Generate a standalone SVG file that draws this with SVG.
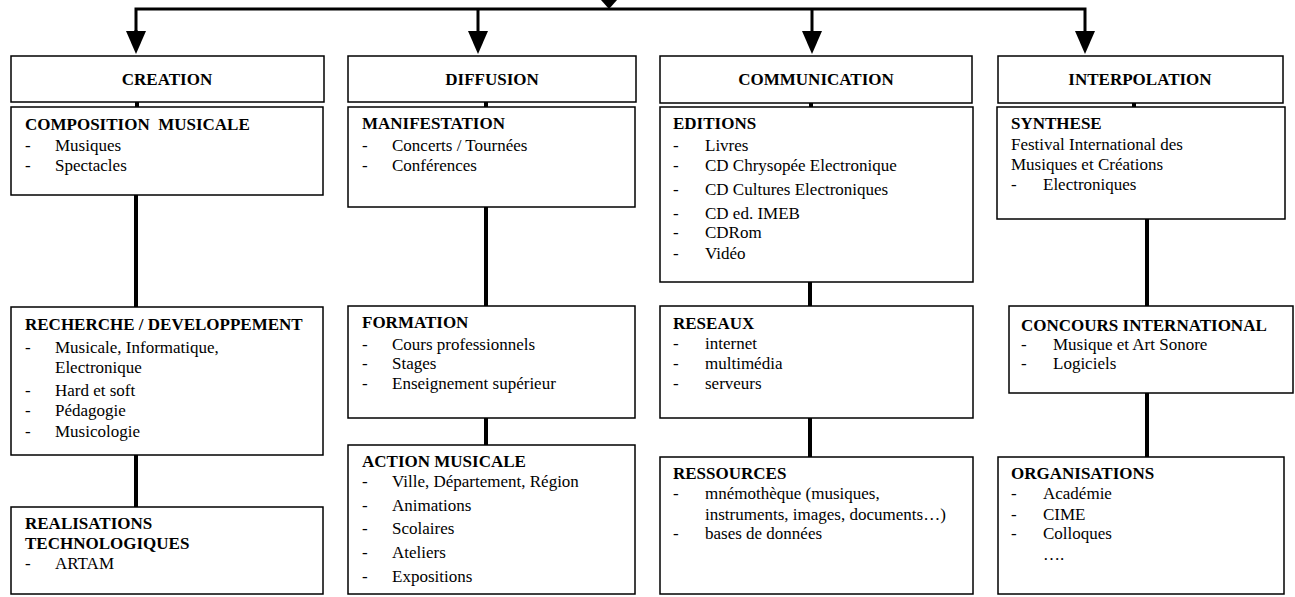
<svg xmlns="http://www.w3.org/2000/svg" width="1295" height="597" viewBox="0 0 1295 597">
<style>
text{font-family:"Liberation Serif","Times New Roman",serif;font-size:17px;fill:#000}
.t{font-weight:bold}
.c{text-anchor:middle}
.box{fill:#fff;stroke:#000;stroke-width:1.5}
.con{stroke:#000;stroke-width:4;fill:none}
.top{stroke:#000;stroke-width:3;fill:none}
</style>
<defs>
<marker id="ah" markerWidth="20" markerHeight="23" refX="10" refY="23" orient="auto" markerUnits="userSpaceOnUse" viewBox="0 0 20 23">
<path d="M0,0 L20,0 L10,23 Z" fill="#000"/>
</marker>
</defs>
<g id="connectors">
<polygon points="601,0 617,0 609,9" fill="#000"/>
<polyline class="top" points="136,33 136,9 1085,9 1085,33"/>
<line class="top" x1="136" y1="30" x2="136" y2="31"/>
<path d="M126,31 L146,31 L136,54 Z" fill="#000"/>
<line class="top" x1="478" y1="9" x2="478" y2="32"/>
<path d="M468,31 L488,31 L478,54 Z" fill="#000"/>
<line class="top" x1="812" y1="9" x2="812" y2="32"/>
<path d="M802,31 L822,31 L812,54 Z" fill="#000"/>
<path d="M1075,31 L1095,31 L1085,54 Z" fill="#000"/>
<line class="con" x1="137" y1="102" x2="137" y2="107"/>
<line class="con" x1="486" y1="102" x2="486" y2="107"/>
<line class="con" x1="811" y1="103" x2="811" y2="107"/>
<line class="con" x1="1134" y1="103" x2="1134" y2="107"/>
<line class="con" x1="136" y1="195" x2="136" y2="307"/>
<line class="con" x1="486" y1="207" x2="486" y2="306"/>
<line class="con" x1="810" y1="282" x2="810" y2="306"/>
<line class="con" x1="1147" y1="219" x2="1147" y2="306"/>
<line class="con" x1="136" y1="455" x2="136" y2="507"/>
<line class="con" x1="486" y1="418" x2="486" y2="445"/>
<line class="con" x1="810" y1="418" x2="810" y2="457"/>
<line class="con" x1="1147" y1="393" x2="1147" y2="457"/>
</g>
<g id="creation">
<rect class="box" x="11" y="56" width="313" height="46"/>
<text class="t c" x="167" y="85">CREATION</text>
</g>
<g id="diffusion">
<rect class="box" x="348" y="56" width="288" height="46"/>
<text class="t c" x="492" y="85">DIFFUSION</text>
</g>
<g id="communication">
<rect class="box" x="660" y="56" width="312" height="47"/>
<text class="t c" x="816" y="85">COMMUNICATION</text>
</g>
<g id="interpolation">
<rect class="box" x="998" y="56" width="285" height="47"/>
<text class="t c" x="1140" y="85">INTERPOLATION</text>
</g>
<g id="composition">
<rect class="box" x="11" y="107" width="312" height="88"/>
<text class="t" x="25" y="130" xml:space="preserve">COMPOSITION  MUSICALE</text>
<text x="25" y="151">-</text><text x="55" y="151">Musiques</text>
<text x="25" y="171">-</text><text x="55" y="171">Spectacles</text>
</g>
<g id="recherche">
<rect class="box" x="11" y="307" width="312" height="148"/>
<text class="t" x="25" y="330">RECHERCHE / DEVELOPPEMENT</text>
<text x="25" y="353">-</text><text x="55" y="353">Musicale, Informatique,</text>
<text x="55" y="373">Electronique</text>
<text x="25" y="396">-</text><text x="55" y="396">Hard et soft</text>
<text x="25" y="416">-</text><text x="55" y="416">Pédagogie</text>
<text x="25" y="437">-</text><text x="55" y="437">Musicologie</text>
</g>
<g id="realisations">
<rect class="box" x="11" y="507" width="312" height="87"/>
<text class="t" x="25" y="529">REALISATIONS</text>
<text class="t" x="25" y="549">TECHNOLOGIQUES</text>
<text x="25" y="569">-</text><text x="55" y="569">ARTAM</text>
</g>
<g id="manifestation">
<rect class="box" x="348" y="107" width="287" height="100"/>
<text class="t" x="362" y="129">MANIFESTATION</text>
<text x="362" y="151">-</text><text x="392" y="151">Concerts / Tournées</text>
<text x="362" y="171">-</text><text x="392" y="171">Conférences</text>
</g>
<g id="formation">
<rect class="box" x="348" y="306" width="287" height="112"/>
<text class="t" x="362" y="328">FORMATION</text>
<text x="362" y="350">-</text><text x="392" y="350">Cours professionnels</text>
<text x="362" y="369">-</text><text x="392" y="369">Stages</text>
<text x="362" y="389">-</text><text x="392" y="389">Enseignement supérieur</text>
</g>
<g id="action">
<rect class="box" x="348" y="445" width="287" height="149"/>
<text class="t" x="362" y="467">ACTION MUSICALE</text>
<text x="362" y="487">-</text><text x="392" y="487">Ville, Département, Région</text>
<text x="362" y="511">-</text><text x="392" y="511">Animations</text>
<text x="362" y="534">-</text><text x="392" y="534">Scolaires</text>
<text x="362" y="558">-</text><text x="392" y="558">Ateliers</text>
<text x="362" y="582">-</text><text x="392" y="582">Expositions</text>
</g>
<g id="editions">
<rect class="box" x="660" y="107" width="313" height="175"/>
<text class="t" x="673" y="129">EDITIONS</text>
<text x="673" y="151">-</text><text x="705" y="151">Livres</text>
<text x="673" y="171">-</text><text x="705" y="171">CD Chrysopée Electronique</text>
<text x="673" y="195">-</text><text x="705" y="195">CD Cultures Electroniques</text>
<text x="673" y="219">-</text><text x="705" y="219">CD ed. IMEB</text>
<text x="673" y="238">-</text><text x="705" y="238">CDRom</text>
<text x="673" y="259">-</text><text x="705" y="259">Vidéo</text>
</g>
<g id="reseaux">
<rect class="box" x="660" y="306" width="313" height="112"/>
<text class="t" x="673" y="329">RESEAUX</text>
<text x="673" y="349">-</text><text x="705" y="349">internet</text>
<text x="673" y="369">-</text><text x="705" y="369">multimédia</text>
<text x="673" y="389">-</text><text x="705" y="389">serveurs</text>
</g>
<g id="ressources">
<rect class="box" x="660" y="457" width="313" height="137"/>
<text class="t" x="673" y="479">RESSOURCES</text>
<text x="673" y="499">-</text><text x="705" y="499">mnémothèque (musiques,</text>
<text x="705" y="520">instruments, images, documents…)</text>
<text x="673" y="539">-</text><text x="705" y="539">bases de données</text>
</g>
<g id="synthese">
<rect class="box" x="997" y="107" width="288" height="112"/>
<text class="t" x="1011" y="129">SYNTHESE</text>
<text x="1011" y="150">Festival International des</text>
<text x="1011" y="170">Musiques et Créations</text>
<text x="1011" y="190">-</text><text x="1043" y="190">Electroniques</text>
</g>
<g id="concours">
<rect class="box" x="1009" y="306" width="284" height="87"/>
<text class="t" x="1021" y="331">CONCOURS INTERNATIONAL</text>
<text x="1021" y="350">-</text><text x="1053" y="350">Musique et Art Sonore</text>
<text x="1021" y="369">-</text><text x="1053" y="369">Logiciels</text>
</g>
<g id="organisations">
<rect class="box" x="998" y="457" width="286" height="137"/>
<text class="t" x="1011" y="479">ORGANISATIONS</text>
<text x="1011" y="499">-</text><text x="1043" y="499">Académie</text>
<text x="1011" y="520">-</text><text x="1043" y="520">CIME</text>
<text x="1011" y="539">-</text><text x="1043" y="539">Colloques</text>
<text x="1043" y="560">….</text>
</g>
</svg>
